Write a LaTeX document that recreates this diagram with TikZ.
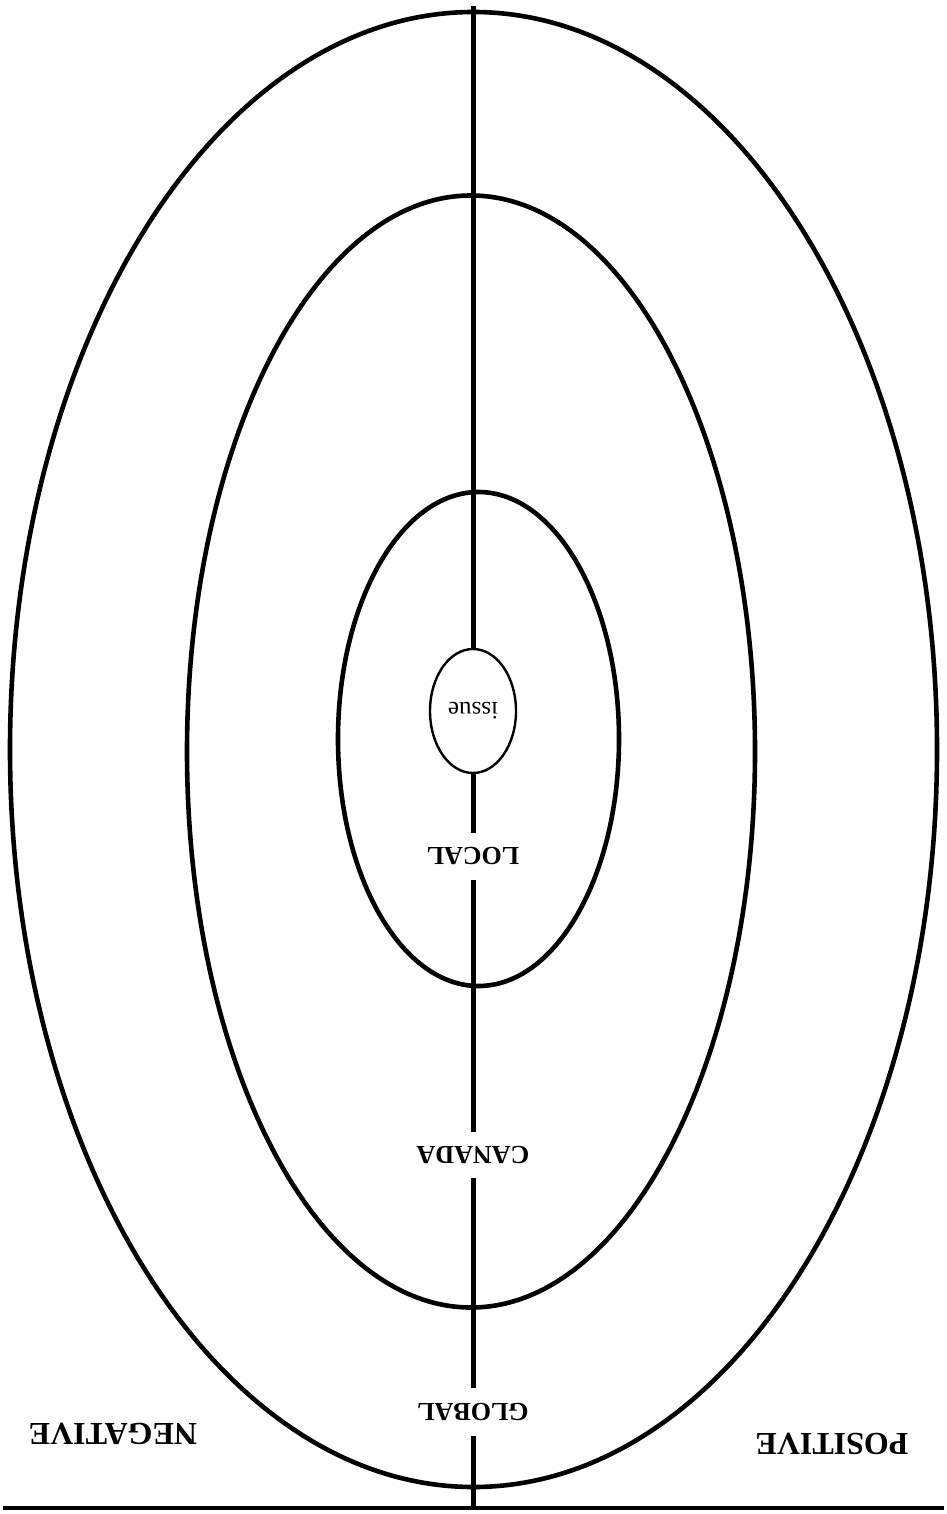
\documentclass[tikz,border=0pt]{standalone}
\usepackage{fontspec}
\setmainfont{Liberation Serif}
\usetikzlibrary{shapes.geometric}
\begin{document}
\begin{tikzpicture}[x=1pt,y=-1pt,
  ring/.style={draw=black,line width=4.6pt},
  axis/.style={draw=black,line width=5pt},
  lvl/.style={rotate=180,inner sep=0pt,font=\bfseries\fontsize{26}{30}\selectfont,text depth=0pt,minimum width=20pt},
  side/.style={rotate=180,inner sep=0pt,font=\bfseries\fontsize{32}{36}\selectfont}]
\useasboundingbox (0,0) rectangle (946,1514);
% rings
\draw[ring] (473.5,749.5) ellipse [x radius=463.5pt, y radius=737.5pt];
\draw[ring] (471,751.5) ellipse [x radius=284pt, y radius=556pt];
\draw[ring] (478.5,739) ellipse [x radius=140.5pt, y radius=247pt];
% labels on the axis
\node[draw=black,line width=2.4pt,ellipse,minimum width=86pt,minimum height=124pt,inner sep=0pt,rotate=180,font=\fontsize{25}{28}\selectfont] (issue) at (473,711) {issue};
\node[lvl,minimum height=47pt] (local) at (473,856.5) {LOCAL};
\node[lvl,minimum height=46pt] (canada) at (473,1155) {CANADA};
\node[lvl,minimum height=48pt] (global) at (473,1412) {GLOBAL};
\coordinate (top) at (473,6);
\coordinate (bot) at (473,1508);
\draw[axis] (top) -- (issue.south);
\draw[axis] (issue.north) -- (local.south);
\draw[axis] (local.north) -- (canada.south);
\draw[axis] (canada.north) -- (global.south);
\draw[axis] (global.north) -- (bot);
% base line
\coordinate (bl) at (3,1508);
\coordinate (br) at (944,1508);
\draw[line width=3.5pt] (bl) -- (br);
% side labels
\node[side] (neg) at (113,1434) {NEGATIVE};
\node[side] (pos) at (832,1444) {POSITIVE};
\end{tikzpicture}
\end{document}
